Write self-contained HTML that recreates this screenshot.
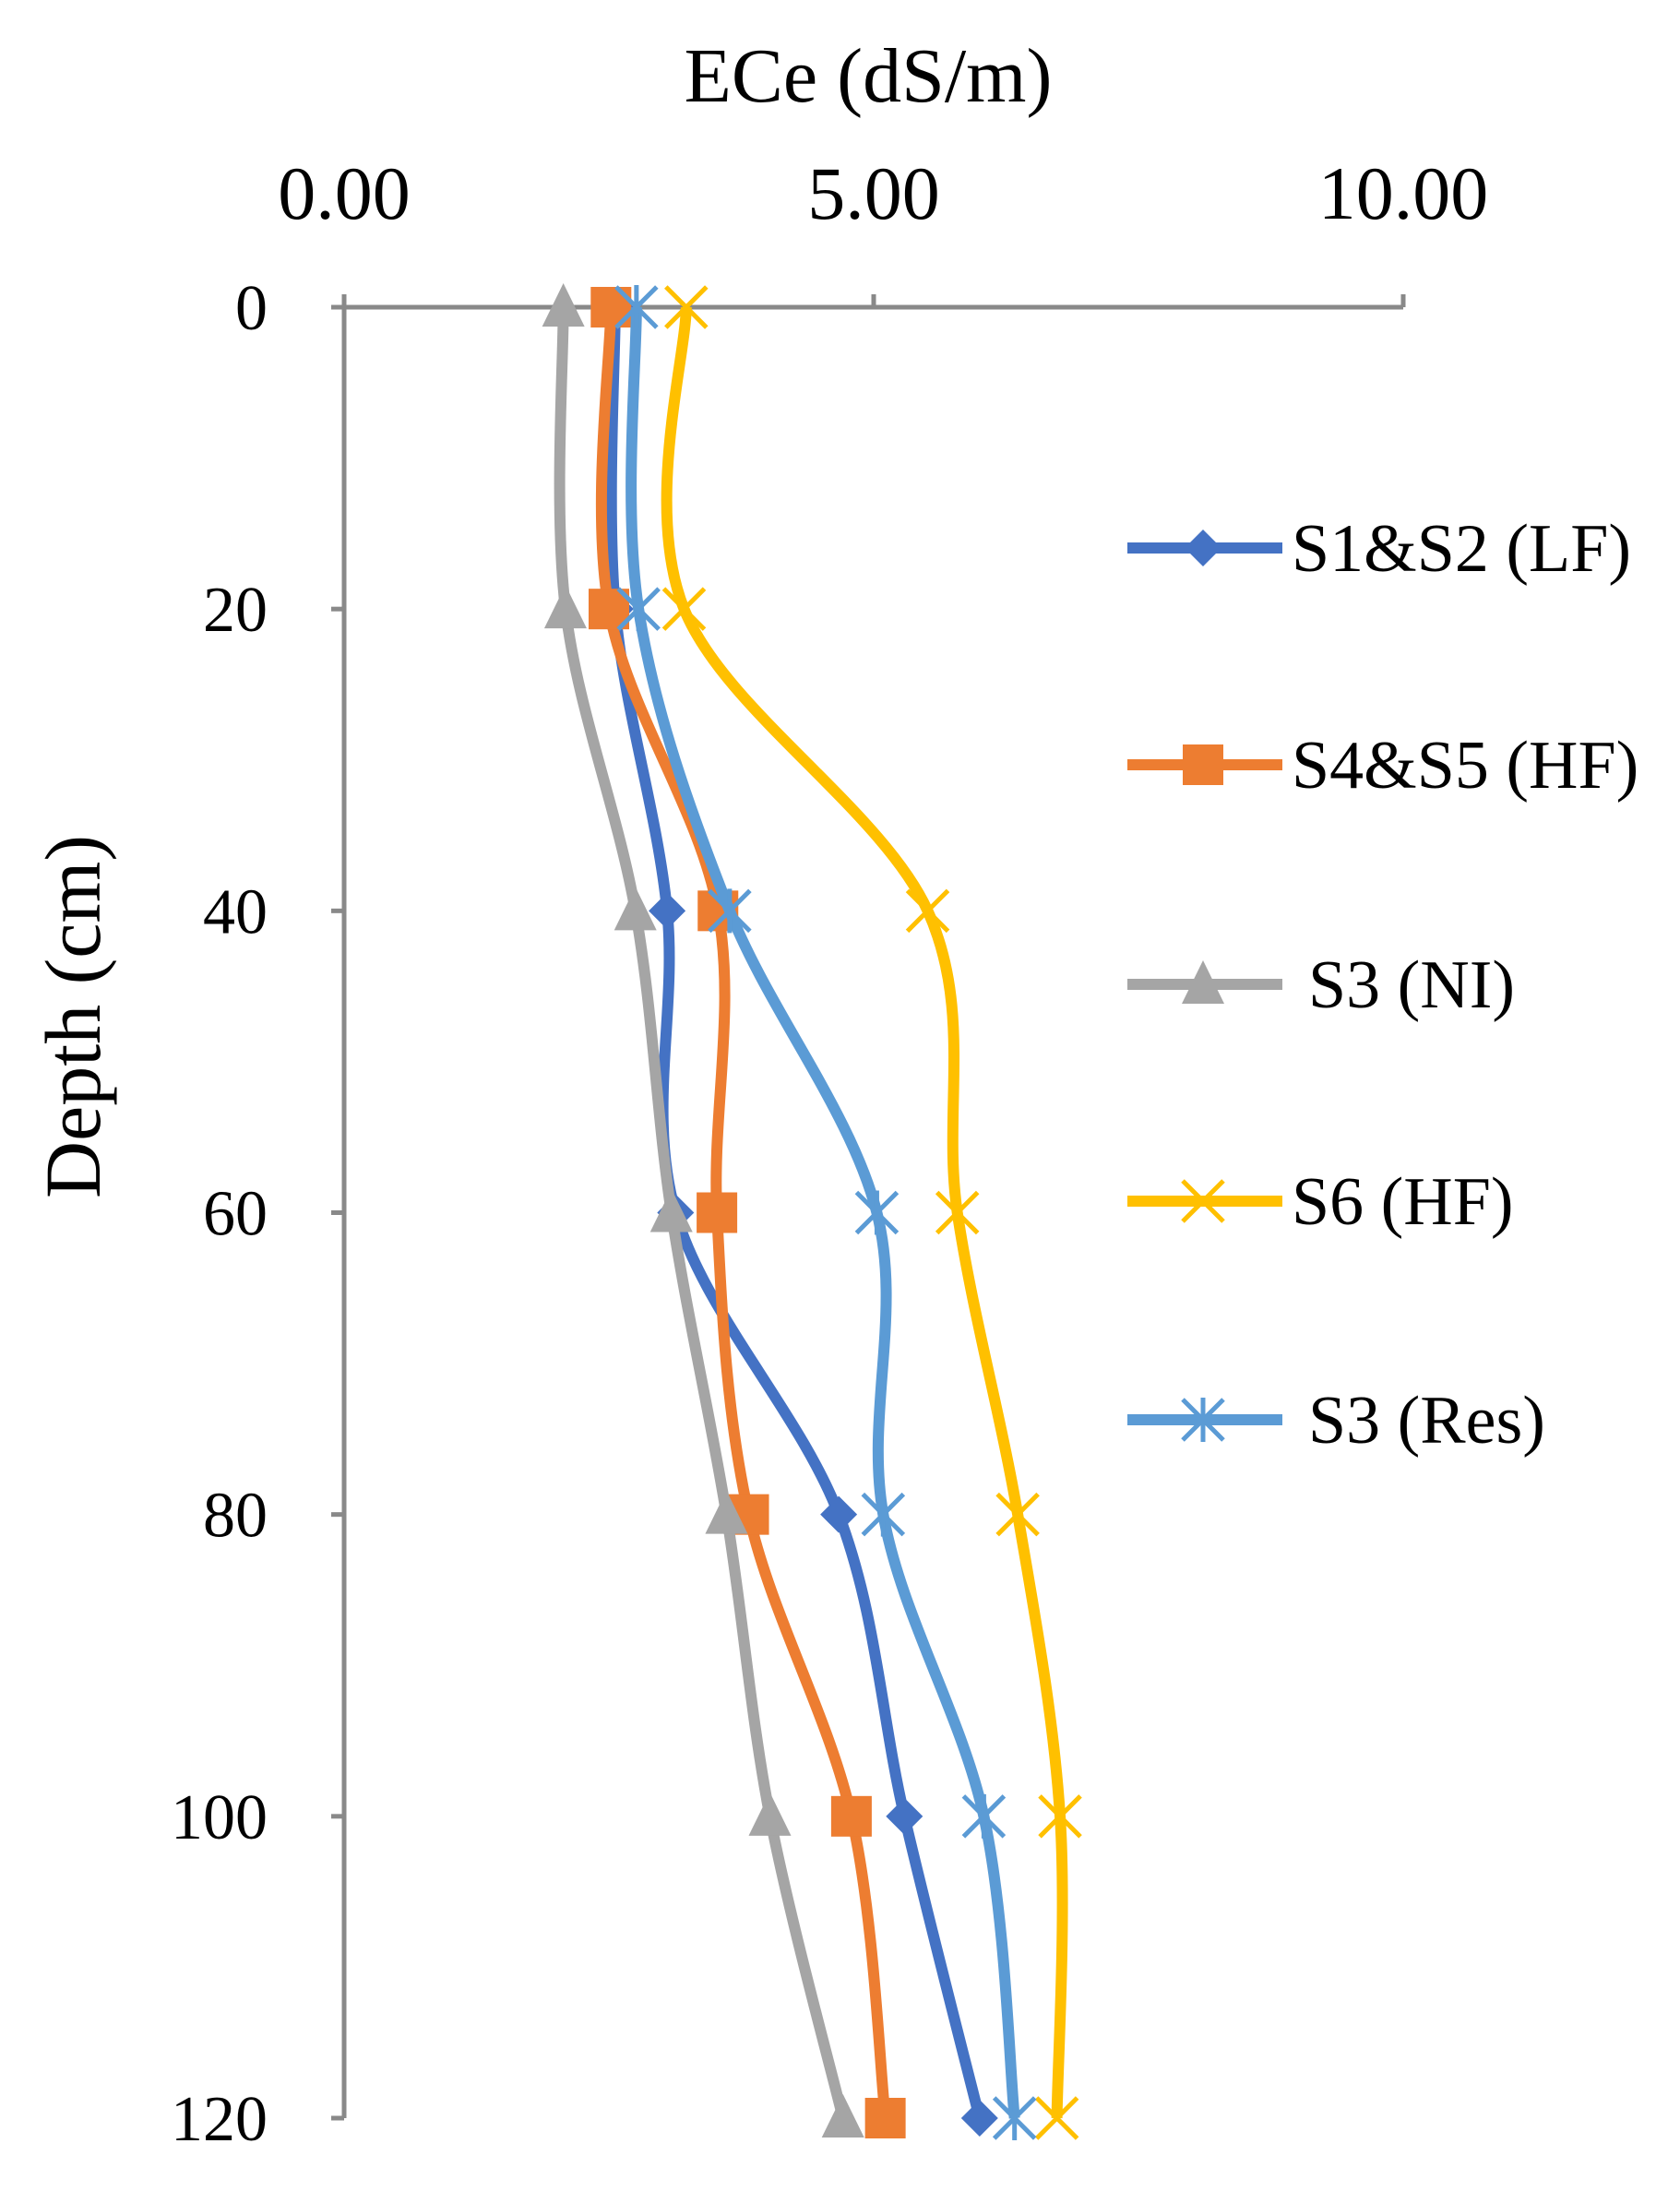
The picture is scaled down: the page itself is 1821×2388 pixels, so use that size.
<!DOCTYPE html>
<html><head><meta charset="utf-8">
<style>
html,body{margin:0;padding:0;background:#fff;}
svg{display:block;font-family:"Liberation Serif",serif;}
</style></head>
<body>
<svg id="chart" width="1821" height="2388" viewBox="0 0 1821 2388" xmlns="http://www.w3.org/2000/svg">
<text x="941" y="110" font-size="84" text-anchor="middle">ECe (dS/m)</text>
<text transform="translate(108,1102) rotate(-90)" font-size="86" text-anchor="middle">Depth (cm)</text>
<g id="axes"></g>
<g id="series"></g>
<g id="legend"></g>
</svg>
<script>
const depths = [0, 20, 40, 60, 80, 100, 120];
const s1s2 = [2.56, 2.56, 3.05, 3.13, 4.67, 5.29, 6.0];
const s4s5 = [2.52, 2.50, 3.53, 3.52, 3.82, 4.79, 5.11];
const s3ni = [2.07, 2.09, 2.75, 3.09, 3.61, 4.02, 4.71];
const s6hf = [3.23, 3.21, 5.51, 5.79, 6.36, 6.76, 6.73];
const s3res = [2.76, 2.78, 3.64, 5.03, 5.09, 6.04, 6.33];
const xTicks = [0, 5, 10];
const xTickLabels = ["0.00", "5.00", "10.00"];
const yTicks = [0, 20, 40, 60, 80, 100, 120];
const seriesNames = ["S1&S2 (LF)", "S4&S5 (HF)", "S3 (NI)", "S6 (HF)", "S3 (Res)"];

const NS = "http://www.w3.org/2000/svg";
const X0 = 373, X1 = 1521, Y0 = 333, Y1 = 2296;
const xs = v => X0 + (v - 0) / 10 * (X1 - X0);
const ys = d => Y0 + d / 120 * (Y1 - Y0);
function mk(tag, attrs, parent) {
  const e = document.createElementNS(NS, tag);
  for (const k in attrs) e.setAttribute(k, attrs[k]);
  parent.appendChild(e);
  return e;
}
const axes = document.getElementById('axes');
const AX = '#898989';
let l = mk('line', {x1: X0, y1: Y0, x2: X1, y2: Y0, stroke: AX, 'stroke-width': 5}, axes);


l = mk('line', {x1: X0, y1: Y0 - 14, x2: X0, y2: Y1, stroke: AX, 'stroke-width': 5}, axes);


xTicks.forEach((t, i) => {
  const x = xs(t);
  const tk = mk('line', {x1: x, y1: Y0 - 14, x2: x, y2: Y0, stroke: AX, 'stroke-width': 5}, axes);
  
  
  const tx = mk('text', {x: x, y: 237, 'font-size': 82, 'text-anchor': 'middle'}, axes);
  tx.textContent = xTickLabels[i];
  
  
});
yTicks.forEach(t => {
  const y = ys(t);
  const tk = mk('line', {x1: X0 - 14, y1: y, x2: X0, y2: y, stroke: AX, 'stroke-width': 5}, axes);
  
  
  const tx = mk('text', {x: 290, y: y + 24, 'font-size': 70, 'text-anchor': 'end'}, axes);
  tx.textContent = String(t);
  
  
});

function smoothPath(pts) {
  let d = `M${pts[0][0]},${pts[0][1]}`;
  for (let i = 0; i < pts.length - 1; i++) {
    const p0 = pts[Math.max(0, i - 1)], p1 = pts[i], p2 = pts[i + 1], p3 = pts[Math.min(pts.length - 1, i + 2)];
    const c1 = [p1[0] + (p2[0] - p0[0]) / 6, p1[1] + (p2[1] - p0[1]) / 6];
    const c2 = [p2[0] - (p3[0] - p1[0]) / 6, p2[1] - (p3[1] - p1[1]) / 6];
    d += ` C${c1[0]},${c1[1]} ${c2[0]},${c2[1]} ${p2[0]},${p2[1]}`;
  }
  return d;
}
function marker(type, x, y, color, g) {
  let e;
  if (type === 'diamond') e = mk('polygon', {points: `${x},${y-20} ${x+20},${y} ${x},${y+20} ${x-20},${y}`, fill: color}, g);
  else if (type === 'square') e = mk('rect', {x: x - 22, y: y - 22, width: 44, height: 44, fill: color}, g);
  else if (type === 'triangle') e = mk('polygon', {points: `${x},${y-26} ${x+23},${y+21} ${x-23},${y+21}`, fill: color}, g);
  else if (type === 'x') e = mk('path', {d: `M${x-22},${y-22}L${x+22},${y+22}M${x+22},${y-22}L${x-22},${y+22}`, stroke: color, 'stroke-width': 5, fill: 'none'}, g);
  else e = mk('path', {d: `M${x-22},${y-22}L${x+22},${y+22}M${x+22},${y-22}L${x-22},${y+22}M${x},${y-24}L${x},${y+24}`, stroke: color, 'stroke-width': 5, fill: 'none'}, g);
  return e;
}
const seriesData = [s1s2, s4s5, s3ni, s6hf, s3res];
const colors = ['#4472C4', '#ED7D31', '#A5A5A5', '#FFC000', '#5B9BD5'];
const markers = ['diamond', 'square', 'triangle', 'x', 'star'];
const sg = document.getElementById('series');
const drawOrder = [0, 1, 2, 3, 4];
drawOrder.forEach(si => {
  const g = mk('g', {}, sg);
  
  
  const pts = seriesData[si].map((v, i) => [xs(v), ys(depths[i])]);
  const p = mk('path', {d: smoothPath(pts), stroke: colors[si], 'stroke-width': 12, fill: 'none', 'stroke-linejoin': 'round'}, g);
  
  
  pts.forEach(pt => {
    const m = marker(markers[si], pt[0], pt[1], colors[si], g);
    
    
  });
});
const lg = document.getElementById('legend');
const legY = [594, 829, 1067, 1302, 1539];
seriesNames.forEach((n, i) => {
  const g = mk('g', {}, lg);
  
  
  mk('line', {x1: 1222, y1: legY[i], x2: 1390, y2: legY[i], stroke: colors[i], 'stroke-width': 12}, g);
  marker(markers[i], 1304, legY[i], colors[i], g);
  const t = mk('text', {x: (i === 2 || i === 4) ? 1418 : 1400, y: legY[i] + 25, 'font-size': 74}, g);
  t.textContent = n;
});
</script>
</body></html>
